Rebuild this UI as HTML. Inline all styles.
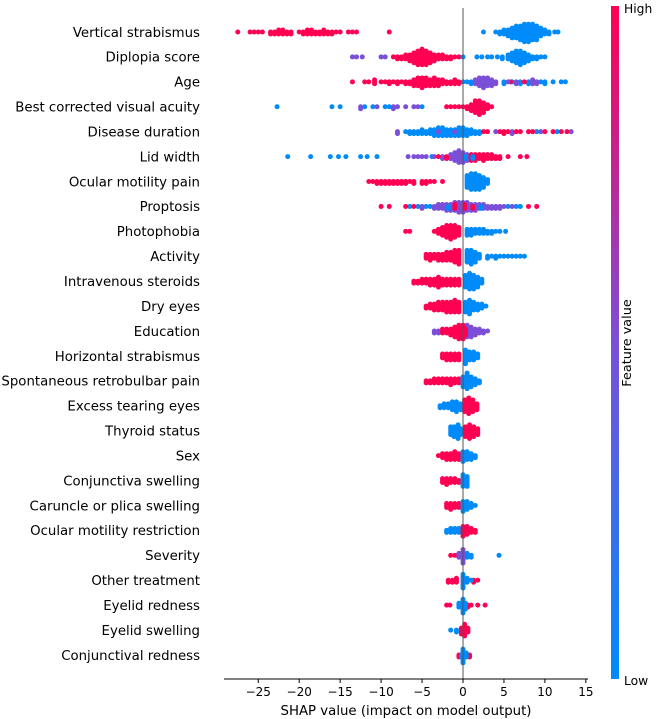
<!DOCTYPE html>
<html><head><meta charset="utf-8"><style>
html,body{margin:0;padding:0;background:#fff;}
svg{display:block;font-family:"DejaVu Sans","Liberation Sans",sans-serif;}
</style></head><body>
<svg id="chart" width="662" height="719" viewBox="0 0 662 719" xmlns="http://www.w3.org/2000/svg">
<defs><linearGradient id="cb" x1="0" y1="0" x2="0" y2="1">
<stop offset="0" stop-color="#ff0052"/><stop offset="0.5" stop-color="#7b4fd8"/><stop offset="1" stop-color="#008bfb"/></linearGradient></defs>
<g id="labels"></g>
<g id="dots"></g>
<line x1="463" y1="8" x2="463" y2="679" stroke="#555" stroke-width="1"/>
<line x1="224" y1="679" x2="588" y2="679" stroke="#000" stroke-width="1"/>
<g id="ticks"></g>
<text x="406" y="715" font-size="13.3" text-anchor="middle">SHAP value (impact on model output)</text>
<rect x="611" y="6" width="8" height="673" fill="url(#cb)"/>
<text x="624" y="13" font-size="12.3">High</text>
<text x="624" y="685" font-size="12.3">Low</text>
<text x="0" y="0" font-size="12.8" text-anchor="middle" transform="translate(631,343) rotate(-90)">Feature value</text>
</svg>
<script>
const features = ["Vertical strabismus","Diplopia score","Age ","Best corrected visual acuity","Disease duration ","Lid width","Ocular motility pain","Proptosis","Photophobia","Activity","Intravenous steroids","Dry eyes","Education ","Horizontal strabismus","Spontaneous retrobulbar pain","Excess tearing eyes","Thyroid status","Sex","Conjunctiva swelling","Caruncle or plica swelling","Ocular motility restriction","Severity","Other treatment ","Eyelid redness","Eyelid swelling","Conjunctival redness"];
const xTicks = [-25,-20,-15,-10,-5,0,5,10,15];
// each row: list of [featureValue(0 low..1 high), [[shap, count], ...]]
const rowData = [
 [[1,[[-27.5,1],[-26,1],[-25.5,1],[-25,1],[-24.5,1],[-23.5,2],[-23,2],[-22.5,3],[-22,3],[-21.5,2],[-21,2],[-20,1],[-19.5,2],[-19,3],[-18.5,3],[-18,2],[-17.5,2],[-17,3],[-16.5,2],[-16,2],[-15.5,1],[-15,1],[-14,1],[-13.5,1],[-13,1],[-9,1]]],
  [0,[[2.5,1],[4,1],[4.5,2],[5,3],[5.5,4],[6,6],[6.5,7],[7,8],[7.5,10],[8,10],[8.5,9],[9,8],[9.5,5],[10,3],[10.5,2],[11.2,1],[11.6,1]]]],
 [[0.5,[[-13.5,1],[-13,1],[-12.3,1],[-10,1],[-9.5,1]]],
  [1,[[-8.5,1],[-8,2],[-7.5,2],[-7,3],[-6.5,4],[-6,6],[-5.5,8],[-5,9],[-4.5,8],[-4,6],[-3.5,4],[-3,3],[-2.5,3],[-2,2],[-1.5,2],[-1,1],[-0.5,1]]],
  [0,[[0,1],[1.7,1],[2.3,1],[3,1],[3.5,1],[4.2,1],[4.8,2],[5.5,3],[6,5],[6.5,7],[7,8],[7.5,6],[8,4],[8.5,2],[9,2],[9.5,1],[10,1]]]],
 [[0,[[-2,1],[0,1],[0.5,1],[1,2],[5,2],[6,1],[7,2],[8,2],[9,1],[9.5,1],[10,2],[11,1],[12,1],[12.5,1]]],
  [1,[[-13.5,1],[-12,1],[-11.5,1],[-10.8,3],[-10,1],[-9.5,1],[-9,2],[-8.5,1],[-8,2],[-7.5,1],[-7,2],[-6.5,2],[-6,4],[-5.5,5],[-5,6],[-4.5,5],[-4,4],[-3.5,5],[-3,4],[-2.5,3],[-2,2],[-1.5,2],[-1,3],[-0.5,2],[5.8,1],[7.5,1]]],
  [0.5,[[1.5,3],[2,5],[2.5,6],[3,5],[3.5,4],[4,2],[5.5,1],[6.5,2],[8.5,3],[9,2]]]],
 [[0,[[-22.7,1],[-16,1],[-15,1],[-12,1],[-11,1],[-9.5,1],[-9,1],[-5,1]]],
  [0.5,[[-12.5,2],[-10.5,1],[-8.5,2],[-8,1],[-7,1],[-6,1],[-5.5,1]]],
  [1,[[-2,1],[-1.5,1],[-1,1],[-0.5,1],[0,1],[0.5,2],[1,4],[1.5,7],[2,8],[2.5,6],[3,3],[3.5,1]]]],
 [[0,[[-7,1],[-6.5,2],[-6,2],[-5.5,2],[-5,3],[-4.5,2],[-4,3],[-3.5,4],[-3,5],[-2.5,5],[-2,4],[-1.5,4],[-1,4],[-0.5,5],[0,5],[0.5,4],[1,3],[1.5,2],[2,2],[9,1],[11.5,1]]],
  [0.5,[[-8,2],[-3,1],[-1,1],[4,1],[6,2],[9.5,1],[13.2,1]]],
  [1,[[2.5,1],[3,1],[4.5,1],[5,2],[5.5,1],[6.5,1],[7,1],[8,1],[8.5,1],[10,1],[11,1],[12,1],[12.7,1]]]],
 [[0,[[-21.4,1],[-18.6,1],[-16.2,1],[-15.2,1],[-14.3,1],[-12.5,1],[-11.7,1],[-10.5,1],[-3.8,1]]],
  [0.5,[[-6.7,1],[-6,1],[-5.5,1],[-5,1],[-4.5,1],[-3.5,1],[-2.5,2],[-1.5,3],[-1,5],[-0.5,7],[0,6],[0.5,4]]],
  [1,[[-3,1],[-2,2],[1,4],[1.5,4],[2,3],[2.5,4],[3,3],[3.5,3],[4,2],[4.5,2],[5.5,1],[7,1],[7.8,1]]],
  [0,[[0.3,2],[1.2,2]]]],
 [[1,[[-11.5,1],[-11,1],[-10.5,2],[-10,2],[-9.5,2],[-9,2],[-8.5,2],[-8,2],[-7.5,2],[-7,2],[-6.5,1],[-6,2],[-5,2],[-4.5,2],[-4,1],[-3.5,1],[-2.5,1]]],
  [0,[[0.5,7],[1,9],[1.5,9],[2,8],[2.5,6],[3,3]]]],
 [[0,[[-6.5,1],[-5.5,1],[-4.5,1],[-4,1],[5.5,1],[6.5,1],[7,1]]],
  [0.5,[[-5,2],[-3.5,2],[-3,3],[-2.5,3],[-2,4],[-1.5,4],[-1,5],[-0.5,6],[0,6],[0.5,5],[1,4],[1.5,4],[2,3],[2.5,3],[3,2],[3.5,2],[4,2],[4.5,2],[5,1],[6,1]]],
  [1,[[-10,1],[-9,1],[-7,1],[-6,1],[8,1],[9,1],[-1,3],[0.2,3],[1.2,2]]],
  [0,[[2.2,2],[-1.8,2]]]],
 [[1,[[-7,1],[-6.5,1],[-3.5,1],[-3,3],[-2.5,5],[-2,7],[-1.5,8],[-1,7],[-0.5,5]]],
  [0,[[0.5,4],[1,4],[1.5,3],[2,3],[2.5,3],[3,2],[3.5,2],[4,1],[4.5,1],[5.2,1]]]],
 [[1,[[-4.5,3],[-4,4],[-3.5,3],[-3,4],[-2.5,4],[-2,5],[-1.5,5],[-1,7],[-0.5,8]]],
  [0,[[0.5,7],[1,8],[1.5,6],[2,3],[3,2],[3.5,1],[4,2],[4.5,1],[5,1],[5.5,1],[6,1],[6.5,1],[7,1],[7.5,1]]]],
 [[1,[[-6,2],[-5.5,2],[-5,3],[-4.5,3],[-4,4],[-3.5,4],[-3,6],[-2.5,4],[-2,4],[-1.5,4],[-1,4],[-0.5,4]]],
  [0,[[0.3,7],[0.8,9],[1.3,8],[1.8,6],[2.3,3]]]],
 [[1,[[-4.5,2],[-4,3],[-3.5,4],[-3,5],[-2.5,5],[-2,6],[-1.5,6],[-1,7],[-0.5,6]]],
  [0,[[0.3,6],[0.8,8],[1.3,5],[1.8,4],[2.3,3],[2.8,1]]]],
 [[0.5,[[-3.5,2],[-3,2],[1.5,4],[2,3],[2.5,2],[3,1],[0.5,7],[1,6]]],
  [1,[[-2.5,3],[-2,3],[-1.5,4],[-1,6],[-0.5,8],[0,8],[0.3,4]]]],
 [[1,[[-2.5,3],[-2,4],[-1.5,4],[-1,4],[-0.5,4]]],
  [0,[[0.3,8],[0.8,5],[1.3,5],[1.8,3]]]],
 [[1,[[-4.5,2],[-4,2],[-3.5,3],[-3,3],[-2.5,3],[-2,3],[-1.5,4],[-1,3],[-0.5,3]]],
  [0,[[0,6],[0.5,9],[1,6],[1.5,4],[2,2]]]],
 [[0,[[-2.8,2],[-2.3,3],[-1.8,3],[-1.3,5],[-0.8,6],[-0.3,4]]],
  [1,[[0.2,7],[0.7,9],[1.2,7],[1.7,4]]]],
 [[0,[[-1.5,5],[-1.1,6],[-0.6,8],[-0.3,4]]],
  [1,[[0.3,6],[0.8,8],[1.3,6],[1.8,4]]]],
 [[1,[[-3,1],[-2.5,3],[-2,4],[-1.5,4],[-1,5],[-0.5,4]]],
  [0,[[0,6],[0.5,5],[1,4],[1.5,2]]]],
 [[1,[[-2.5,3],[-2,4],[-1.5,3],[-1,3],[-0.5,2]]],
  [0,[[0,7],[0.5,6]]]],
 [[1,[[-2,3],[-1.5,4],[-1,3],[-0.5,3]]],
  [0,[[0,6],[0.5,5],[1,3],[1.5,1]]]],
 [[0,[[-2,2],[-1.5,3],[-1,3],[-0.5,3]]],
  [1,[[0,6],[0.5,5],[1,3],[1.5,2]]]],
 [[1,[[-1.5,1],[-1,1]]],
  [0,[[0.5,3],[1,2],[4.4,1]]],
  [0.5,[[-0.5,3],[0,8]]]],
 [[1,[[-1.8,2],[-1.3,2],[-0.8,3],[1.3,2],[1.8,1]]],
  [0,[[0,8],[0.5,3],[1,1]]]],
 [[1,[[-2,1],[-1.6,1],[0.6,2],[1,1],[1.8,1],[2.7,1]]],
  [0,[[-0.5,3],[0,8],[0.3,4]]]],
 [[0,[[-1.5,1],[-0.8,2]]],
  [1,[[-0.2,4],[0.2,7],[0.6,3]]]],
 [[1,[[-0.5,2],[0.8,2]]],
  [0,[[0,8],[0.4,3],[-0.2,2]]]]
];
const NS="http://www.w3.org/2000/svg";
const x0=463, unit=8.19, rowY0=32, rowStep=24.92;
function xScale(v){return x0+v*unit;}
function yRow(i){return rowY0+i*rowStep;}
function colorFor(t){
  const lo=[0,139,251], mid=[123,79,216], hi=[255,0,82];
  let a,b,u; if(t<0.5){a=lo;b=mid;u=t/0.5;}else{a=mid;b=hi;u=(t-0.5)/0.5;}
  return 'rgb('+a.map((c,k)=>Math.round(c+(b[k]-c)*u)).join(',')+')';
}
const labelsG=document.getElementById('labels');
features.forEach((f,i)=>{
  const t=document.createElementNS(NS,'text');
  t.setAttribute('x',200); t.setAttribute('y',yRow(i)+4.8);
  t.setAttribute('text-anchor','end'); t.setAttribute('font-size','13.3');
  t.setAttribute('xml:space','preserve');
  t.textContent=f;
  
  
  labelsG.appendChild(t);
});
const dotsG=document.getElementById('dots');
const sp=1.95;
rowData.forEach((groups,i)=>{
  const cy=yRow(i);
  groups.forEach(g=>{
    const col=colorFor(g[0]);
    g[1].forEach(p=>{
      const cx=xScale(p[0]);
      for(let k=0;k<p[1];k++){
        const off = k===0?0:(k%2===1?1:-1)*Math.ceil(k/2)*sp;
        const c=document.createElementNS(NS,'circle');
        c.setAttribute('cx',cx.toFixed(2)); c.setAttribute('cy',(cy+off).toFixed(2));
        c.setAttribute('r',2.5); c.setAttribute('fill',col);
        
        
        dotsG.appendChild(c);
      }
    });
  });
});
const ticksG=document.getElementById('ticks');
xTicks.forEach(v=>{
  const x=xScale(v);
  const l=document.createElementNS(NS,'line');
  l.setAttribute('x1',x);l.setAttribute('x2',x);l.setAttribute('y1',679);l.setAttribute('y2',683);
  l.setAttribute('stroke','#000');
  
  
  ticksG.appendChild(l);
  const t=document.createElementNS(NS,'text');
  t.setAttribute('x',x);t.setAttribute('y',696);t.setAttribute('text-anchor','middle');t.setAttribute('font-size','12');
  t.textContent=v<0?'\u2212'+Math.abs(v):String(v);
  
  
  ticksG.appendChild(t);
});
</script>
</body></html>
